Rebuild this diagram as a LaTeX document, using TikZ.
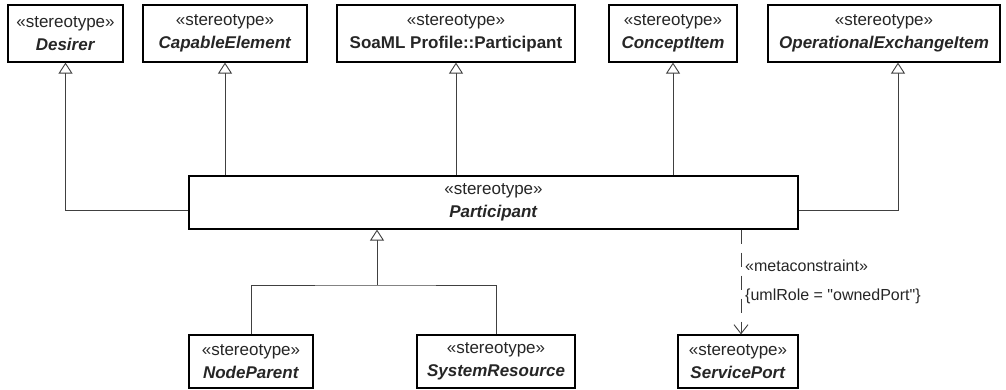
\documentclass[tikz,border=0pt]{standalone}
\usepackage{fontspec}
\setmainfont{Liberation Sans}
\usetikzlibrary{arrows.meta,calc}
\begin{document}
\begin{tikzpicture}[x=1pt,y=-1pt,
  box/.style={draw=black,line width=1.2pt,fill=white,align=center,inner sep=0pt,
    font=\fontsize{17}{23}\selectfont,text=black!85},
  gen/.style={draw=black!75,line width=0.9pt,-{Triangle[open,length=11,width=14,fill=white]}},
  dep/.style={draw=black!75,line width=0.9pt,dash pattern=on 14pt off 9pt,-{Straight Barb[length=9,width=14]}},
  lbl/.style={anchor=west,inner sep=0pt,font=\fontsize{16}{18}\selectfont,text=black!85}]
\useasboundingbox (0,0) rectangle (1006,389);
\newcommand{\st}[1]{\guillemotleft stereotype\guillemotright\\\textbf{\textit{#1}}}
% top row
\node[box,minimum width=115,minimum height=57] (des) at (65.5,33.5) {\st{Desirer}};
\node[box,minimum width=164,minimum height=57] (cap) at (225,33.5) {\st{CapableElement}};
\node[box,minimum width=238,minimum height=57] (soa) at (456,33.5) {\guillemotleft stereotype\guillemotright\\\textbf{SoaML Profile::Participant}};
\node[box,minimum width=128,minimum height=57] (con) at (673,33.5) {\st{ConceptItem}};
\node[box,minimum width=232,minimum height=57] (opx) at (884,33.5) {\st{OperationalExchangeItem}};
% middle
\node[box,minimum width=609,minimum height=53] (par) at (493.5,202.5) {\st{Participant}};
% bottom row
\node[box,minimum width=124,minimum height=53] (np) at (251,361.5) {\st{NodeParent}};
\node[box,minimum width=158,minimum height=53] (sr) at (496,361.5) {\st{SystemResource}};
\node[box,minimum width=120,minimum height=53] (sp) at (738,361.5) {\st{ServicePort}};
% generalizations up
\coordinate (jl) at (0,210);
\draw[gen] (par.west |- jl) -| (des.south);
\draw[gen] (par.north -| cap.south) -- (cap.south);
\draw[gen] (par.north -| soa.south) -- (soa.south);
\draw[gen] (par.north -| con.south) -- (con.south);
\coordinate (ox) at ([xshift=14pt]opx.south);
\draw[gen] (par.east |- jl) -| (ox);
% generalization tree down
\coordinate (j) at (377,285);
\draw[draw=black!75,line width=0.9pt] (np.north) |- (j) -| (sr.north);
\draw[gen] (j) -- (j |- par.south);
% dependency
\coordinate (dt) at ([xshift=3pt]sp.north);
\draw[dep] (par.south -| dt) -- (dt);
\node[lbl] (l1) at (745,266) {\guillemotleft metaconstraint\guillemotright};
\node[lbl] (l2) at (745,296) {\{umlRole = \textquotedbl ownedPort\textquotedbl\}};
\end{tikzpicture}
\end{document}
